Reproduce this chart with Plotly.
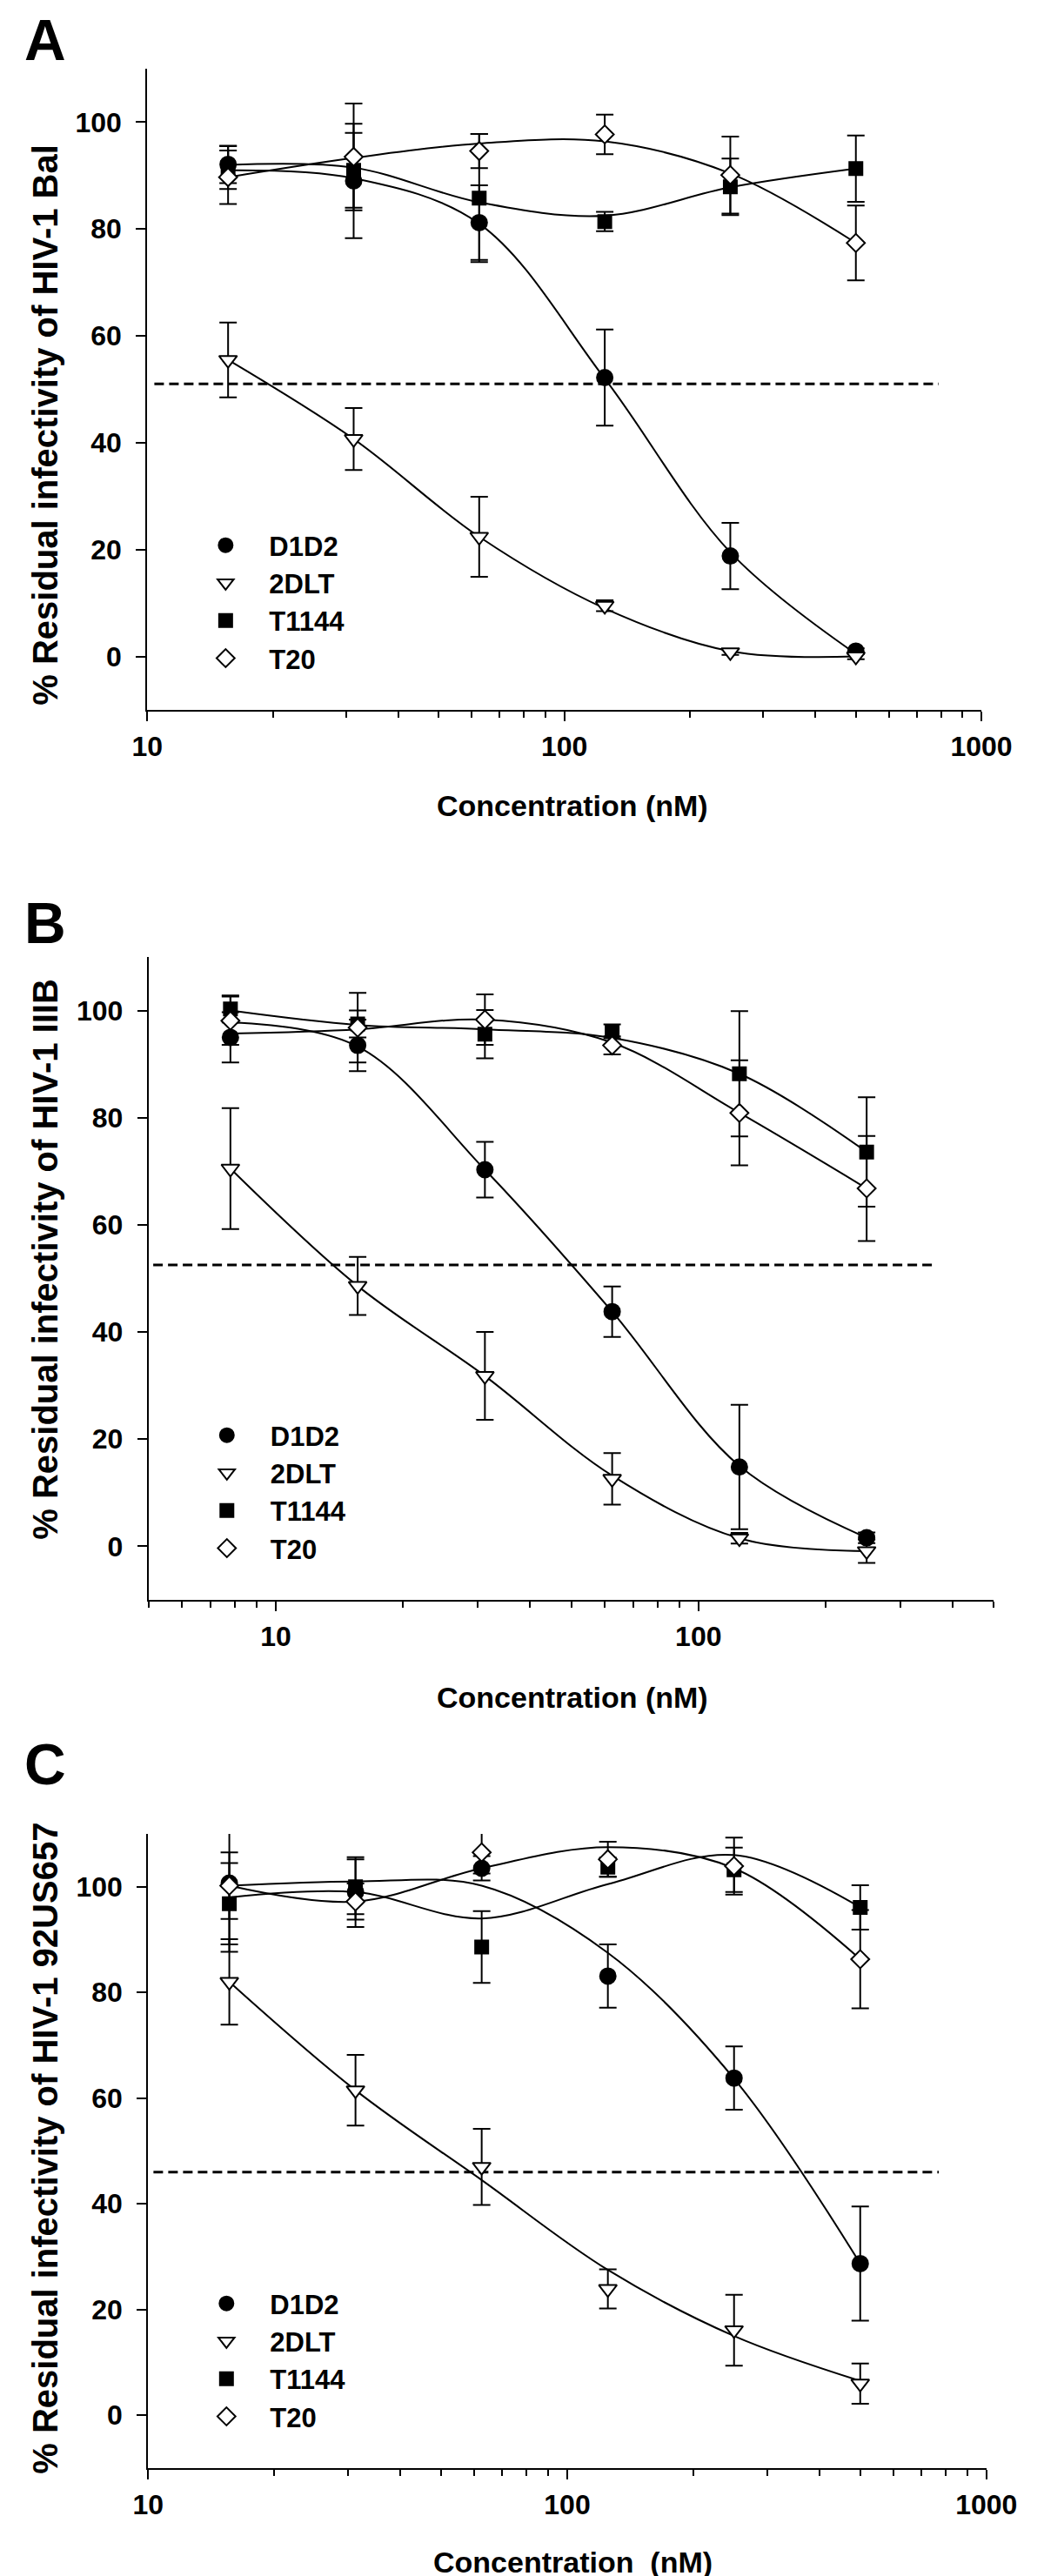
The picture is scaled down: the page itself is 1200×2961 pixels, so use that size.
import plotly.graph_objects as go

# concentrations (nM) for each panel
CONC_A = [15.625, 31.25, 62.5, 125, 250, 500]
CONC_B = [7.8125, 15.625, 31.25, 62.5, 125, 250]
CONC_C = [15.625, 31.25, 62.5, 125, 250, 500]

SERIES = ["D1D2", "2DLT", "T1144", "T20"]

# panel A - HIV-1 Bal : mean, error, fitted curve read at the same concentrations
A_D1D2 = [92.1, 89.0, 81.2, 52.2, 18.8, 1.0]
A_D1D2_ERR = [3.5, 10.7, 7.0, 9.0, 6.2, 0.5]
A_D1D2_FIT = [91.0, 89.5, 81.0, 52.0, 19.5, 0.5]
A_2DLT = [55.5, 40.7, 22.4, 9.5, 0.8, 0.0]
A_2DLT_ERR = [7.0, 5.8, 7.5, 1.0, 0.5, 0.5]
A_2DLT_FIT = [55.5, 40.7, 22.4, 9.0, 1.0, 0.0]
A_T1144 = [91.5, 91.0, 85.8, 81.4, 87.9, 91.3]
A_T1144_ERR = [4.0, 7.0, 12.0, 1.8, 5.3, 6.2]
A_T1144_FIT = [92.0, 91.5, 85.0, 82.5, 87.8, 91.3]
A_T20 = [89.7, 93.5, 94.6, 97.7, 90.1, 77.4]
A_T20_ERR = [5.0, 10.0, 3.2, 3.7, 7.2, 7.0]
A_T20_FIT = [89.7, 93.3, 96.0, 96.4, 90.4, 77.4]

# panel B - HIV-1 IIIB
B_D1D2 = [95.0, 93.5, 70.3, 43.8, 14.8, 1.6]
B_D1D2_ERR = [4.7, 4.8, 5.2, 4.7, 11.6, 1.0]
B_D1D2_FIT = [97.8, 93.3, 70.3, 43.8, 15.0, 1.6]
B_2DLT = [70.5, 48.6, 31.8, 12.6, 1.5, -0.9]
B_2DLT_ERR = [11.3, 5.4, 8.2, 4.8, 1.0, 2.2]
B_2DLT_FIT = [70.5, 48.6, 31.8, 13.2, 1.5, -0.9]
B_T1144 = [100.3, 97.5, 95.6, 96.1, 88.2, 73.6]
B_T1144_ERR = [2.5, 2.5, 4.5, 1.3, 11.7, 10.2]
B_T1144_FIT = [100.0, 97.3, 96.5, 94.9, 88.2, 73.6]
B_T20 = [98.1, 96.8, 98.3, 93.5, 80.9, 66.8]
B_T20_ERR = [4.5, 6.5, 4.7, 1.7, 9.8, 9.8]
B_T20_FIT = [95.7, 96.5, 98.3, 94.0, 80.9, 66.8]

# panel C - HIV-1 92US657
C_D1D2 = [100.7, 99.0, 103.5, 83.1, 63.8, 28.7]
C_D1D2_ERR = [13.0, 6.6, 2.3, 6.0, 6.0, 10.8]
C_D1D2_FIT = [100.2, 101.0, 100.2, 87.5, 63.7, 28.7]
C_2DLT = [82.0, 61.5, 47.0, 23.9, 16.1, 6.0]
C_2DLT_ERR = [8.1, 6.7, 7.2, 3.7, 6.7, 3.8]
C_2DLT_FIT = [82.0, 61.5, 44.5, 27.5, 15.0, 6.5]
C_T1144 = [96.8, 100.0, 88.6, 103.7, 103.2, 96.1]
C_T1144_ERR = [7.7, 5.2, 6.8, 1.8, 4.2, 4.2]
C_T1144_FIT = [98.0, 99.0, 94.0, 100.5, 106.0, 96.1]
C_T20 = [100.2, 97.2, 106.5, 105.2, 103.9, 86.3]
C_T20_ERR = [6.3, 3.4, 4.0, 3.3, 5.4, 9.3]
C_T20_FIT = [100.2, 97.2, 103.5, 107.5, 103.5, 86.3]

# 50% reference lines (level, from, to)
HALF_A = [51.0, 10.4, 790]
HALF_B = [52.5, 5.13, 360]
HALF_C = [46.0, 10.3, 770]

Y_TICKS = [0, 20, 40, 60, 80, 100]

FONT = "Liberation Sans, Arial, Helvetica, sans-serif"

STYLE = {
    "D1D2": dict(symbol="circle", color="black", size=18),
    "2DLT": dict(symbol="triangle-down", color="white", size=18),
    "T1144": dict(symbol="square", color="black", size=15),
    "T20": dict(symbol="diamond", color="white", size=16),
}

PANELS = [
    dict(letter="A", strain="Bal", conc=CONC_A,
         data={"D1D2": (A_D1D2, A_D1D2_ERR, A_D1D2_FIT),
               "2DLT": (A_2DLT, A_2DLT_ERR, A_2DLT_FIT),
               "T1144": (A_T1144, A_T1144_ERR, A_T1144_FIT),
               "T20": (A_T20, A_T20_ERR, A_T20_FIT)},
         half=HALF_A, xrange=[1, 3],
         xdom=[150, 1154], ydom=[71, 808], xtitle="Concentration (nM)",
         letter_y=38, title_y=480, xtitle_y=918),
    dict(letter="B", strain="IIIB", conc=CONC_B,
         data={"D1D2": (B_D1D2, B_D1D2_ERR, B_D1D2_FIT),
               "2DLT": (B_2DLT, B_2DLT_ERR, B_2DLT_FIT),
               "T1144": (B_T1144, B_T1144_ERR, B_T1144_FIT),
               "T20": (B_T20, B_T20_ERR, B_T20_FIT)},
         half=HALF_B, xrange=[0.69897, 2.69897],
         xdom=[151.5, 1169], ydom=[1092, 1831], xtitle="Concentration (nM)",
         letter_y=1053, title_y=1439, xtitle_y=1943),
    dict(letter="C", strain="92US657", conc=CONC_C,
         data={"D1D2": (C_D1D2, C_D1D2_ERR, C_D1D2_FIT),
               "2DLT": (C_2DLT, C_2DLT_ERR, C_2DLT_FIT),
               "T1144": (C_T1144, C_T1144_ERR, C_T1144_FIT),
               "T20": (C_T20, C_T20_ERR, C_T20_FIT)},
         half=HALF_C, xrange=[1, 3],
         xdom=[151, 1160], ydom=[2100, 2829], xtitle="Concentration\u00a0 (nM)",
         letter_y=2020, title_y=2461, xtitle_y=2937),
]

W, H = 1200, 2961


def px_x(v):
    return v / W


def px_y(v):
    return 1 - v / H


fig = go.Figure()
layout = dict(width=W, height=H, margin=dict(l=0, r=0, t=0, b=0),
              paper_bgcolor="white", plot_bgcolor="white",
              font=dict(family=FONT, color="black"), showlegend=True)
annotations = []

for i, p in enumerate(PANELS):
    n = "" if i == 0 else str(i + 1)
    xa, ya = "x" + n, "y" + n
    leg = "legend" + n

    # fitted curves first so the markers sit on top
    for s in SERIES:
        fig.add_trace(go.Scatter(
            x=p["conc"], y=p["data"][s][2], mode="lines",
            line=dict(color="black", width=2, shape="spline", smoothing=1.0),
            showlegend=False, hoverinfo="skip", xaxis=xa, yaxis=ya))

    fig.add_trace(go.Scatter(
        x=p["half"][1:], y=[p["half"][0]] * 2, mode="lines",
        line=dict(color="black", width=3, dash="11px,6px"),
        showlegend=False, hoverinfo="skip", xaxis=xa, yaxis=ya))

    for s in SERIES:
        st = STYLE[s]
        fig.add_trace(go.Scatter(
            x=p["conc"], y=p["data"][s][0], mode="markers", name=s,
            marker=dict(symbol=st["symbol"], size=st["size"], color=st["color"],
                        line=dict(color="black", width=2)),
            error_y=dict(type="data", array=p["data"][s][1], color="black",
                         thickness=2, width=10),
            legend=leg, legendgroup=p["letter"] + s,
            xaxis=xa, yaxis=ya))

    layout["xaxis" + n] = dict(
        type="log", range=p["xrange"], domain=[px_x(p["xdom"][0]), px_x(p["xdom"][1])],
        anchor=ya, showline=True, linecolor="black", linewidth=2,
        showgrid=False, zeroline=False, dtick=1,
        ticks="outside", ticklen=11, tickwidth=2, tickcolor="black",
        minor=dict(ticks="outside", ticklen=7, tickwidth=2, tickcolor="black",
                   dtick="D1", showgrid=False),
        tickfont=dict(family=FONT, size=32, weight="bold"),
        ticklabelstandoff=2)
    layout["yaxis" + n] = dict(
        range=[-10, 110], domain=[px_y(p["ydom"][1]), px_y(p["ydom"][0])],
        anchor=xa, showline=True, linecolor="black", linewidth=2,
        showgrid=False, zeroline=False, tickvals=Y_TICKS,
        ticks="outside", ticklen=11, tickwidth=2, tickcolor="black",
        tickfont=dict(family=FONT, size=32, weight="bold"),
        ticklabelstandoff=10)

    top, bot = p["ydom"]
    layout[leg] = dict(
        x=px_x(p["xdom"][0] + 42), y=px_y(bot - 216), xanchor="left", yanchor="top",
        bgcolor="rgba(0,0,0,0)", font=dict(family=FONT, size=31, weight="bold"),
        itemwidth=90, tracegroupgap=0, traceorder="grouped")

    annotations.append(dict(
        text=p["letter"], x=px_x(27), y=px_y(p["letter_y"]), xref="paper", yref="paper",
        xanchor="center", yanchor="middle", showarrow=False,
        font=dict(family=FONT, size=66, weight="bold")))
    annotations.append(dict(
        text="% Residual infectivity of HIV-1 " + p["strain"], textangle=-90,
        x=px_x(27), y=px_y(p["title_y"]), xref="paper", yref="paper",
        xanchor="center", yanchor="middle", showarrow=False,
        font=dict(family=FONT, size=40, weight="bold")))
    annotations.append(dict(
        text=p["xtitle"], x=px_x(662), y=px_y(p["xtitle_y"]), xref="paper", yref="paper",
        xanchor="center", yanchor="middle", showarrow=False,
        font=dict(family=FONT, size=34, weight="bold")))

layout["annotations"] = annotations
fig.update_layout(**layout)
fig.write_html("out.html")
